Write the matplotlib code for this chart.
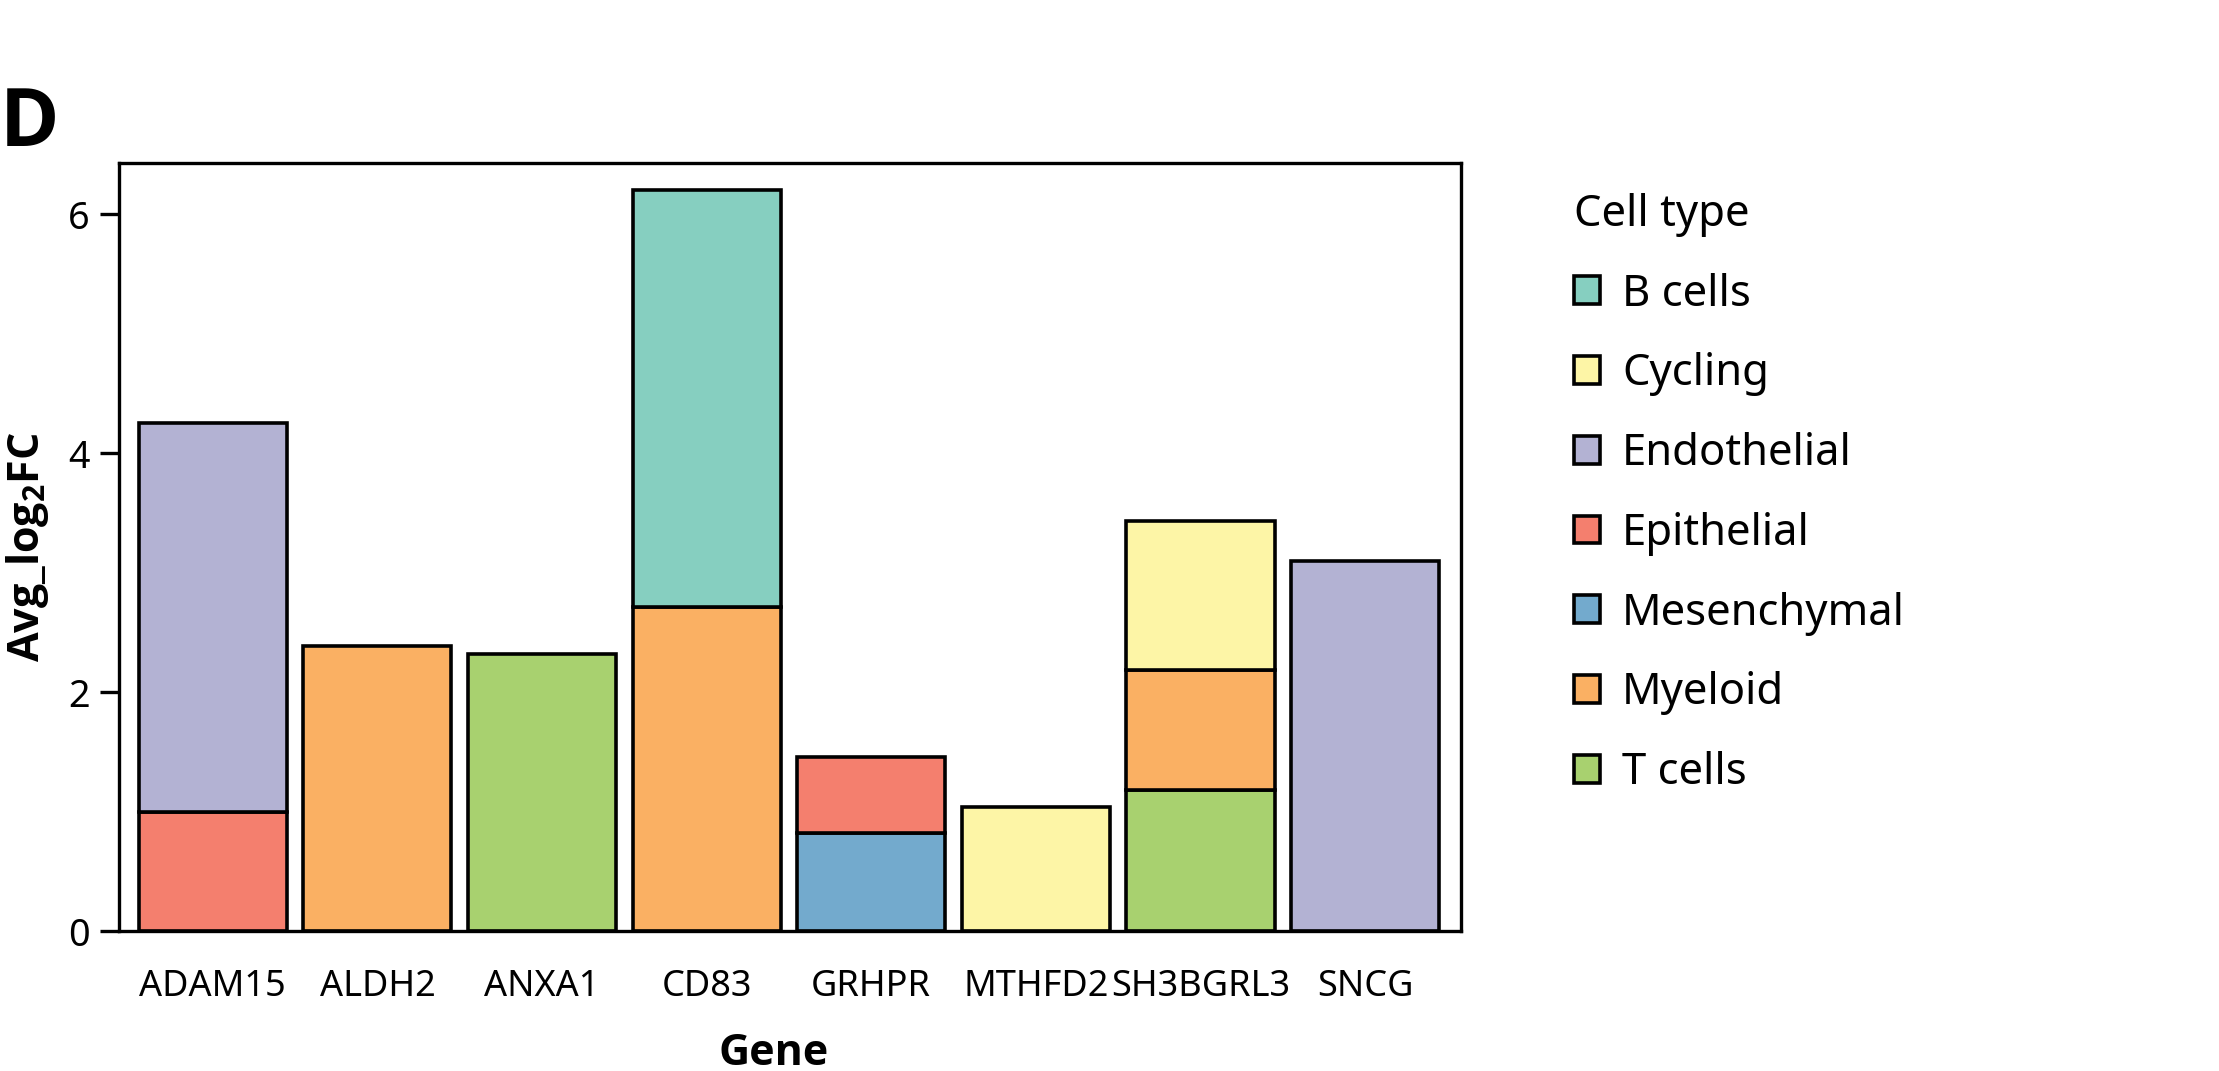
import numpy as np
import matplotlib
matplotlib.use("Agg")
import matplotlib.pyplot as plt
from matplotlib import font_manager as fm

# Pick a family that really has a bold face installed
def has_bold(family):
    for f in fm.fontManager.ttflist:
        if f.name == family and f.weight in (600, 700, 800, 'bold', 'semibold'):
            return True
    return False

regular_family = 'Noto Sans'
bold_family = 'DejaVu Sans'
for fam in ['Noto Sans', 'Open Sans', 'Lato', 'Roboto', 'Inter', 'Liberation Sans']:
    if has_bold(fam):
        bold_family = fam
        break

plt.rcParams['font.family'] = [regular_family, 'DejaVu Sans']
plt.rcParams['mathtext.fontset'] = 'custom'
plt.rcParams['mathtext.rm'] = bold_family + ':bold'
plt.rcParams['mathtext.bf'] = bold_family + ':bold'

# Data
genes = ['ADAM15', 'ALDH2', 'ANXA1', 'CD83', 'GRHPR', 'MTHFD2', 'SH3BGRL3', 'SNCG']
cell_types = ['B cells', 'Cycling', 'Endothelial', 'Epithelial',
              'Mesenchymal', 'Myeloid', 'T cells']
b_cells = [0, 0, 0, 3.49, 0, 0, 0, 0]
cycling = [0, 0, 0, 0, 0, 1.04, 1.24, 0]
endothelial = [3.25, 0, 0, 0, 0, 0, 0, 3.10]
epithelial = [1.00, 0, 0, 0, 0.64, 0, 0, 0]
mesenchymal = [0, 0, 0, 0, 0.82, 0, 0, 0]
myeloid = [0, 2.39, 0, 2.71, 0, 0, 1.01, 0]
t_cells = [0, 0, 2.32, 0, 0, 0, 1.18, 0]
y_ticks = [0, 2, 4, 6]

colors = ['#86CFC0', '#FDF5A6', '#B3B2D3', '#F47F6E', '#73AACD', '#FAB063', '#A8D16F']
series = [b_cells, cycling, endothelial, epithelial, mesenchymal, myeloid, t_cells]

fig = plt.figure(figsize=(11.095, 5.355), dpi=200)
ax = fig.add_axes([0.0536, 0.1305, 0.6046, 0.7175])

x = np.arange(len(genes))
bottom = np.zeros(len(genes))
handles = {}
# ggplot-style stacking: last level at the bottom
for name, vals, col in reversed(list(zip(cell_types, series, colors))):
    vals = np.array(vals, dtype=float)
    idx = vals > 0
    bars = ax.bar(x[idx], vals[idx], width=0.9, bottom=bottom[idx],
                  color=col, edgecolor='black', linewidth=1.3, label=name)
    handles[name] = bars
    bottom += vals

ax.set_xlim(-0.57, 7.58)
ax.set_ylim(0, 6.43)
ax.set_xticks(x)
ax.set_xticklabels(genes)
ax.set_yticks(y_ticks)

for s in ax.spines.values():
    s.set_linewidth(1.2)
    s.set_color('black')

ax.tick_params(axis='x', length=0, pad=13.5, labelsize=13.0)
ax.tick_params(axis='y', length=7, width=1.2, pad=3.5, labelsize=13.6)

ax.set_xlabel('Gene', fontsize=15.5, fontweight='bold', family=bold_family)
ax.set_ylabel(r'Avg_log$_{\mathbf{2}}$FC', fontsize=15.5, fontweight='bold',
              family=bold_family)
ax.xaxis.set_label_coords(0.488, -0.131)
ax.yaxis.set_label_coords(-0.051, 0.5)

leg = ax.legend([handles[n] for n in cell_types], cell_types,
                title='Cell type', loc='upper left',
                bbox_to_anchor=(0.7093, 0.8200), bbox_transform=fig.transFigure,
                frameon=False, fontsize=15.7, title_fontsize=15.7,
                borderpad=0, borderaxespad=0, handlelength=0.6, handleheight=0.6,
                handletextpad=0.5, labelspacing=0.82, alignment='left')

fig.text(0.0, 0.8637, 'D', fontsize=29, fontweight='bold', family=bold_family,
         va='baseline', ha='left')

fig.savefig('out.png', dpi=200)
